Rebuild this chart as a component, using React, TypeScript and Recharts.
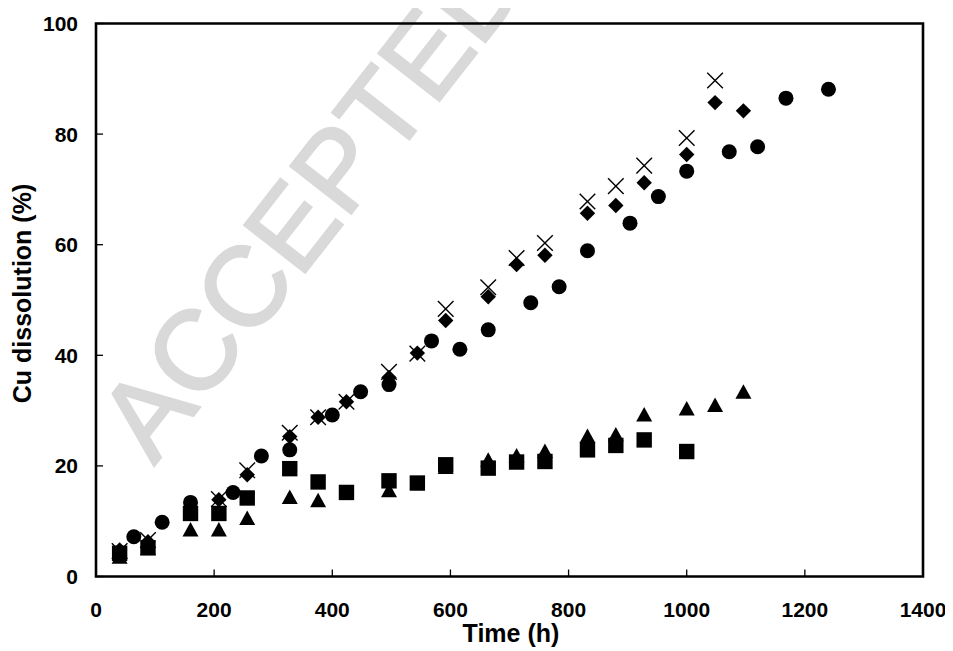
import React from 'react';
import { ScatterChart, Scatter, XAxis, YAxis, Label, ReferenceArea } from 'recharts';

const xTicks = [0, 200, 400, 600, 800, 1000, 1200, 1400];
const yTicks = [0, 20, 40, 60, 80, 100];

const circleTimes = [64, 112, 160, 232, 280, 328, 400, 448, 496, 568, 616, 664, 736, 784, 832, 904, 952, 1000, 1072, 1120, 1168, 1240];
const circleValues = [7.2, 9.8, 13.4, 15.2, 21.8, 22.9, 29.2, 33.4, 34.7, 42.6, 41.1, 44.6, 49.5, 52.4, 58.9, 63.9, 68.7, 73.3, 76.8, 77.7, 86.5, 88.1];

const diamondTimes = [40, 88, 208, 256, 328, 376, 424, 496, 544, 592, 664, 712, 760, 832, 880, 928, 1000, 1048, 1096];
const diamondValues = [4.8, 6.3, 13.9, 18.4, 25.3, 28.8, 31.6, 36.0, 40.4, 46.3, 50.6, 56.4, 58.1, 65.7, 67.1, 71.2, 76.3, 85.7, 84.2];

const crossTimes = [40, 88, 208, 256, 328, 376, 424, 496, 544, 592, 664, 712, 760, 832, 880, 928, 1000, 1048];
const crossValues = [4.6, 6.6, 14.0, 19.2, 26.0, 28.8, 31.6, 37.0, 40.3, 48.4, 52.3, 57.6, 60.3, 67.8, 70.6, 74.3, 79.3, 89.7];

const squareTimes = [40, 88, 160, 208, 256, 328, 376, 424, 496, 544, 592, 664, 712, 760, 832, 880, 928, 1000];
const squareValues = [4.2, 5.2, 11.4, 11.4, 14.2, 19.5, 17.1, 15.2, 17.3, 16.9, 20.2, 19.6, 20.7, 20.8, 22.9, 23.7, 24.7, 22.6];

const triangleTimes = [40, 88, 160, 208, 256, 328, 376, 496, 592, 664, 712, 760, 832, 880, 928, 1000, 1048, 1096];
const triangleValues = [3.5, 5.0, 8.4, 8.4, 10.5, 14.3, 13.7, 15.5, 19.7, 21.0, 21.8, 22.6, 25.3, 25.6, 29.2, 30.3, 30.9, 33.3];

const toPoints = (xs: number[], ys: number[]) => xs.map((x, i) => ({ x, y: ys[i] }));

const FONT = '"Liberation Sans", Arial, sans-serif';

const CircleShape = (p: any) => <circle cx={p.cx} cy={p.cy} r={7.5} fill="#000" />;
const DiamondShape = (p: any) => {
  const h = 7.7;
  return <polygon points={`${p.cx},${p.cy - h} ${p.cx + h},${p.cy} ${p.cx},${p.cy + h} ${p.cx - h},${p.cy}`} fill="#000" />;
};
const SquareShape = (p: any) => <rect x={p.cx - 7.7} y={p.cy - 7.7} width={15.4} height={15.4} fill="#000" />;
const TriangleShape = (p: any) => (
  <polygon points={`${p.cx},${p.cy - 8} ${p.cx + 8},${p.cy + 6.5} ${p.cx - 8},${p.cy + 6.5}`} fill="#000" />
);
const CrossShape = (p: any) => {
  const h = 7.8;
  return (
    <g stroke="#000" strokeWidth={1.4}>
      <line x1={p.cx - h} y1={p.cy - h} x2={p.cx + h} y2={p.cy + h} />
      <line x1={p.cx - h} y1={p.cy + h} x2={p.cx + h} y2={p.cy - h} />
    </g>
  );
};

const XTick = (props: any) => {
  const { x, y, payload } = props;
  return (
    <g>
      <line x1={x} y1={y} x2={x} y2={y - 7} stroke="#000" strokeWidth={1.3} />
      <text x={x} y={y + 33.5} dy="0.355em" textAnchor="middle" fontFamily={FONT} fontWeight="bold" fontSize={21} fill="#000">
        {payload.value}
      </text>
    </g>
  );
};

const YTick = (props: any) => {
  const { x, y, payload } = props;
  return (
    <g>
      <line x1={x} y1={y} x2={x + 7} y2={y} stroke="#000" strokeWidth={1.3} />
      <text x={x - 18} y={y} dy="0.355em" textAnchor="end" fontFamily={FONT} fontWeight="bold" fontSize={21} fill="#000">
        {payload.value}
      </text>
    </g>
  );
};

const XTitle = (props: any) => {
  const vb = props.viewBox;
  return (
    <text x={vb.x + vb.width / 2 + 1.5} y={vb.y + 56.5} dy="0.355em" textAnchor="middle" fontFamily={FONT} fontWeight="bold" fontSize={25} fill="#000">
      Time (h)
    </text>
  );
};

const YTitle = () => {
  const cx = 14;
  const cy = 285.5;
  return (
    <text x={cx} y={cy} dy="0.355em" textAnchor="middle" transform={`rotate(-90 ${cx} ${cy})`} fontFamily={FONT} fontWeight="bold" fontSize={25} fill="#000">
      Cu dissolution (%)
    </text>
  );
};

export default function App() {
  return (
    <div style={{ position: 'relative', width: 937, height: 643 }}>
      <svg width={937} height={643} style={{ position: 'absolute', left: 0, top: 0, overflow: 'visible', zIndex: 0 }}>
        <text
          x={146}
          y={458}
          transform="rotate(-52 146 458)"
          fontFamily={FONT}
          fontSize={112}
          fill="#d9d9d9"
          stroke="#d9d9d9"
          strokeWidth={2.5}
        >
          ACCEPTED
        </text>
      </svg>
      <div style={{ position: 'absolute', left: 0, top: 0, zIndex: 1 }}>
        <ScatterChart width={937} height={643} margin={{ top: 15.5, right: 22, bottom: 14.5, left: 0 }}>
          <XAxis
            dataKey="x"
            type="number"
            domain={[0, 1400]}
            ticks={xTicks}
            interval={0}
            height={60}
            tickSize={0}
            tickMargin={0}
            tickLine={false}
            tick={<XTick />}
            axisLine={false}
          >
            <Label content={<XTitle />} />
          </XAxis>
          <YAxis
            dataKey="y"
            type="number"
            domain={[0, 100]}
            ticks={yTicks}
            interval={0}
            width={88}
            tickSize={0}
            tickMargin={0}
            tickLine={false}
            tick={<YTick />}
            axisLine={false}
          >
            <Label content={<YTitle />} />
          </YAxis>
          <ReferenceArea x1={0} x2={1400} y1={0} y2={100} fill="none" fillOpacity={0} stroke="#000" strokeWidth={2.6} ifOverflow="visible" />
          <Scatter data={toPoints(triangleTimes, triangleValues)} shape={TriangleShape} isAnimationActive={false} />
          <Scatter data={toPoints(squareTimes, squareValues)} shape={SquareShape} isAnimationActive={false} />
          <Scatter data={toPoints(circleTimes, circleValues)} shape={CircleShape} isAnimationActive={false} />
          <Scatter data={toPoints(diamondTimes, diamondValues)} shape={DiamondShape} isAnimationActive={false} />
          <Scatter data={toPoints(crossTimes, crossValues)} shape={CrossShape} isAnimationActive={false} />
        </ScatterChart>
      </div>
    </div>
  );
}
